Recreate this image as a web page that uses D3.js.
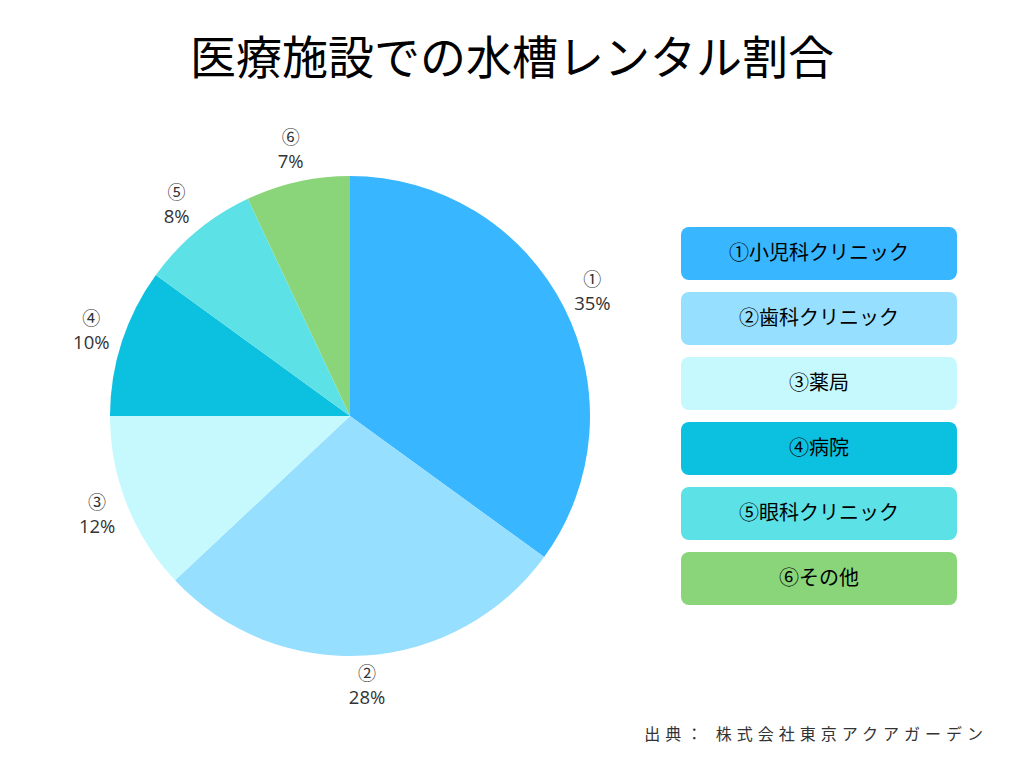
<!DOCTYPE html>
<html>
<head>
<meta charset="utf-8">
<script src="https://cdn.jsdelivr.net/npm/d3@7"></script>
<style>
  body { margin: 0; background: #fff; }
  svg { display: block; }
</style>
</head>
<body>
<main></main>
<script>
const marks = ["①", "②", "③", "④", "⑤", "⑥"];
const names = ["小児科クリニック", "歯科クリニック", "薬局", "病院", "眼科クリニック", "その他"];
const shares = [35, 28, 12, 10, 8, 7];
const colors = ["#38b6ff", "#97dfff", "#c6f9fd", "#0cc0df", "#5ce1e6", "#8ad57a"];

const width = 1024;
const height = 768;
const cx = 350, cy = 416, radius = 240, labelR = 272;
const jp = "'Noto Sans CJK JP', 'Noto Sans', sans-serif";

const svg = d3.select("main").append("svg").attr("width", width).attr("height", height);

svg.append("text")
  .attr("x", 512)
  .attr("y", 74)
  .attr("text-anchor", "middle")
  .text("医療施設での水槽レンタル割合")
  .style("font-family", jp)
  .style("font-size", "46px")
  .style("fill", "#000");

const pie = d3.pie().sort(null).value((d) => d.value);
const arcs = pie(shares.map((v, i) => ({ value: v, i: i })));
const arc = d3.arc().innerRadius(0).outerRadius(radius);
const labelArc = d3.arc().innerRadius(labelR).outerRadius(labelR);

const g = svg.append("g").attr("transform", `translate(${cx}, ${cy})`);

g.selectAll("path")
  .data(arcs)
  .enter()
  .append("path")
  .attr("d", arc)
  .attr("fill", (d) => colors[d.data.i]);

const labels = g.selectAll("g.lbl")
  .data(arcs)
  .enter()
  .append("g")
  .attr("class", "lbl")
  .attr("transform", (d) => `translate(${labelArc.centroid(d)})`);

labels.append("text")
  .attr("y", -7)
  .attr("text-anchor", "middle")
  .text((d) => marks[d.data.i])
  .style("font-family", jp)
  .style("font-size", "18px")
  .style("fill", "#333");

labels.append("text")
  .attr("y", 17)
  .attr("text-anchor", "middle")
  .text((d) => d.data.value + "%")
  .style("font-family", "'Open Sans', sans-serif")
  .style("font-size", "18.5px")
  .style("fill", "#333");

// legend
const legendY = d3.scaleBand()
  .domain(d3.range(names.length))
  .range([227, 227 + 65 * (names.length - 1) + 53])
  .paddingInner(12 / 65)
  .paddingOuter(0);

const legend = svg.append("g").attr("id", "legend");
const items = legend.selectAll("g")
  .data(names)
  .enter()
  .append("g")
  .attr("transform", (d, i) => `translate(681, ${legendY(i)})`);

items.append("rect")
  .attr("width", 276)
  .attr("height", legendY.bandwidth())
  .attr("rx", 8)
  .attr("fill", (d, i) => colors[i]);

items.append("text")
  .attr("x", 138)
  .attr("y", 33)
  .attr("text-anchor", "middle")
  .text((d, i) => marks[i] + d)
  .style("font-family", jp)
  .style("font-size", "20px")
  .style("fill", "#000");

svg.append("text")
  .attr("x", 988)
  .attr("y", 740)
  .attr("text-anchor", "end")
  .text("出典： 株式会社東京アクアガーデン")
  .style("font-family", jp)
  .style("font-size", "16px")
  .style("letter-spacing", "5px")
  .style("fill", "#333");
</script>
</body>
</html>
